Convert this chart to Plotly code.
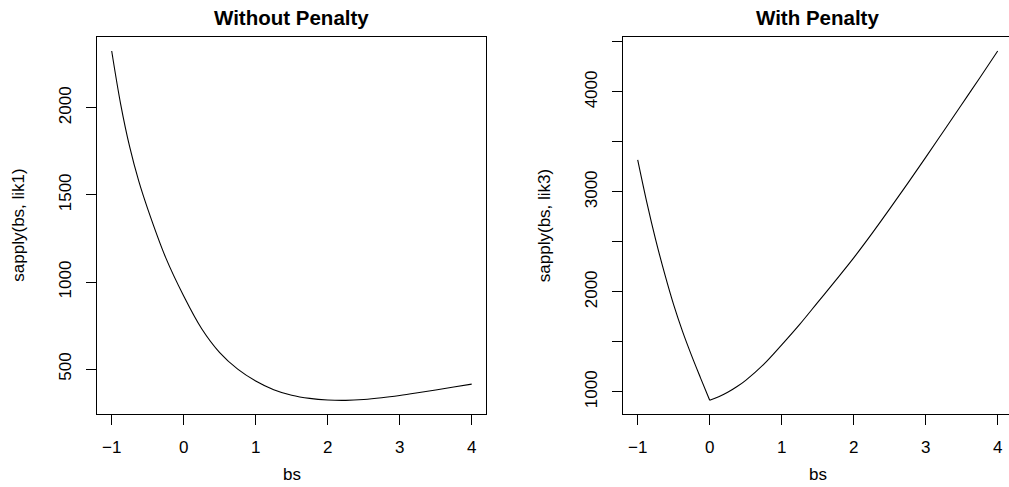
import plotly.graph_objects as go

# ---- data ----
bs1 = [-1.0, -0.875, -0.75, -0.625, -0.5, -0.25, 0.0, 0.25, 0.5, 0.75, 1.0, 1.25,
       1.5, 1.75, 2.0, 2.25, 2.5, 2.75, 3.0, 3.25, 3.5, 3.75, 4.0]
lik1 = [2326, 2020, 1775, 1580, 1420, 1140, 920, 732, 595, 500, 432, 382,
        350, 332, 323, 321, 326, 336, 349, 364, 380, 397, 414]

bs3 = [-1.0, -0.875, -0.75, -0.625, -0.5, -0.375, -0.25, -0.125, 0.0, 0.125, 0.25,
       0.375, 0.5, 0.75, 1.0, 1.25, 1.5, 1.75, 2.0, 2.25, 2.5, 2.75, 3.0, 3.25,
       3.5, 3.75, 4.0]
lik3 = [3320, 2900, 2520, 2180, 1870, 1600, 1360, 1135, 915, 950, 995,
        1050, 1115, 1275, 1470, 1675, 1895, 2115, 2340, 2580, 2830, 3085, 3345, 3610,
        3875, 4140, 4410]

x_ticks = [-1, 0, 1, 2, 3, 4]
x_ticktext = ["\u22121", "0", "1", "2", "3", "4"]
y1_ticks = [500, 1000, 1500, 2000]
y3_ticks = [1000, 1500, 2000, 2500, 3000, 3500, 4000, 4500]
y3_ticktext = ["1000", "", "2000", "", "3000", "", "4000", ""]

titles = ["Without Penalty", "With Penalty"]
ylabels = ["sapply(bs, lik1)", "sapply(bs, lik3)"]
xlabel = "bs"

W, H = 1009, 487
FONT = "Liberation Sans, Arial, sans-serif"
FS = 17

def px(x):
    return x / W

def py(y):
    return 1 - y / H

fig = go.Figure()

line = dict(color="black", width=1.1, shape="spline", smoothing=1.0)
fig.add_trace(go.Scatter(x=bs1, y=lik1, mode="lines", line=line,
                         xaxis="x", yaxis="y", showlegend=False))
k = bs3.index(0.0)
fig.add_trace(go.Scatter(x=bs3[:k + 1], y=lik3[:k + 1], mode="lines", line=line,
                         xaxis="x2", yaxis="y2", showlegend=False))
fig.add_trace(go.Scatter(x=bs3[k:], y=lik3[k:], mode="lines", line=line,
                         xaxis="x2", yaxis="y2", showlegend=False))

# panel geometry (pixels)
p1 = (97.3, 486.1)
p2 = (623.3, 1009.0)
top, bottom = 37.0, 414.3

def pad(lo, hi):
    d = hi - lo
    return [lo - 0.04 * d, hi + 0.04 * d]

xr1 = pad(-1, 4)
xr2 = [xr1[0], 4 + (1009 - 997.7) / 72.0]

common_x = dict(showgrid=False, zeroline=False, showline=True, linecolor="black",
                linewidth=1, ticks="outside", ticklen=10, tickwidth=1,
                tickcolor="black", tickvals=x_ticks, ticktext=x_ticktext,
                tickfont=dict(family=FONT, size=FS, color="black"),
                ticklabelstandoff=7)
common_y = dict(showgrid=False, zeroline=False, showline=True, linecolor="black",
                linewidth=1, ticks="outside", ticklen=10, tickwidth=1,
                tickcolor="black", tickangle=-90,
                tickfont=dict(family=FONT, size=FS, color="black"),
                ticklabelstandoff=9)

fig.update_layout(
    width=W, height=H,
    margin=dict(l=0, r=0, t=0, b=0),
    paper_bgcolor="white", plot_bgcolor="white",
    font=dict(family=FONT, size=FS, color="black"),
    xaxis=dict(common_x, domain=[px(p1[0]), px(p1[1])], range=xr1,
               anchor="y", mirror=True),
    yaxis=dict(common_y, domain=[py(bottom), py(top)], range=pad(min(lik1), max(lik1)),
               tickvals=y1_ticks, ticktext=[str(v) for v in y1_ticks],
               anchor="x", mirror=True),
    xaxis2=dict(common_x, domain=[px(p2[0]), px(p2[1])], range=xr2,
                anchor="y2", mirror=True),
    yaxis2=dict(common_y, domain=[py(bottom), py(top)], range=pad(min(lik3), max(lik3)),
                tickvals=y3_ticks, ticktext=y3_ticktext, anchor="x2", mirror=False),
)

ann = []
for i, (t, yl) in enumerate(zip(titles, ylabels)):
    cx = (p1[0] + p1[1]) / 2 if i == 0 else (p2[0] + 1012.0) / 2
    ann.append(dict(text="<b>%s</b>" % t, x=px(cx), y=py(17), xref="paper", yref="paper",
                    xanchor="center", yanchor="middle", showarrow=False,
                    font=dict(family=FONT, size=20.5, color="black")))
    ann.append(dict(text=xlabel, x=px(cx), y=py(474), xref="paper", yref="paper",
                    xanchor="center", yanchor="middle", showarrow=False,
                    font=dict(family=FONT, size=FS, color="black")))
    ylx = 19 if i == 0 else 544.5
    ann.append(dict(text=yl, x=px(ylx), y=py((top + bottom) / 2), xref="paper",
                    yref="paper", xanchor="center", yanchor="middle", textangle=-90,
                    showarrow=False, font=dict(family=FONT, size=FS, color="black")))
fig.update_layout(annotations=ann)

fig.write_html("out.html")
